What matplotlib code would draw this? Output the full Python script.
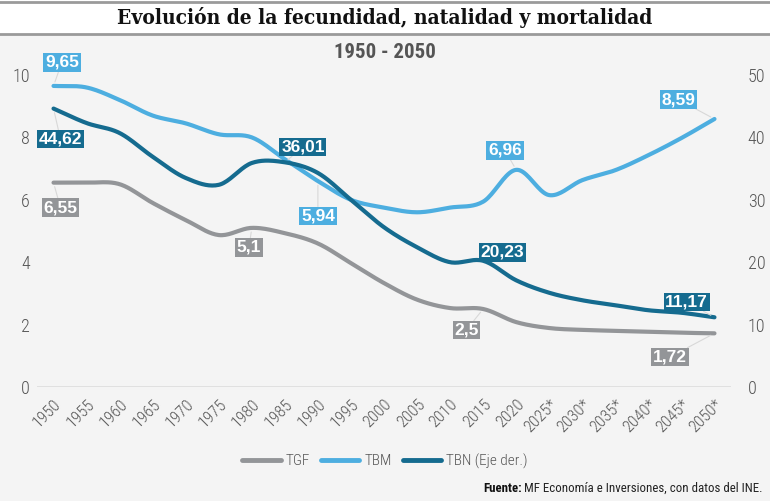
import numpy as np
import matplotlib
matplotlib.use("Agg")
import matplotlib.pyplot as plt
from matplotlib.lines import Line2D

years = ["1950", "1955", "1960", "1965", "1970", "1975", "1980", "1985", "1990", "1995",
         "2000", "2005", "2010", "2015", "2020", "2025*", "2030*", "2035*", "2040*", "2045*", "2050*"]
tgf = [6.55, 6.55, 6.5, 5.9, 5.35, 4.87, 5.1, 4.93, 4.6, 3.97,
       3.33, 2.8, 2.53, 2.5, 2.08, 1.89, 1.83, 1.8, 1.77, 1.74, 1.72]
tbm = [9.65, 9.6, 9.2, 8.7, 8.45, 8.1, 8.0, 7.3, 6.6, 6.0,
       5.75, 5.6, 5.75, 5.94, 6.96, 6.15, 6.63, 6.95, 7.43, 7.98, 8.59]
tbn = [44.62, 42.3, 40.7, 36.9, 33.5, 32.4, 35.9, 36.01, 34.3, 30.0,
       25.6, 22.4, 20.0, 20.23, 17.1, 15.1, 13.9, 13.1, 12.3, 11.9, 11.17]

C_TGF = "#939598"
C_TBM = "#4daee0"
C_TBN = "#156b8f"
BG = "#f4f4f4"
COND = ["Roboto Condensed", "DejaVu Sans"]


def smooth(y, n=20):
    y = np.asarray(y, float)
    x = np.arange(len(y))
    p = np.concatenate([[2 * y[0] - y[1]], y, [2 * y[-1] - y[-2]]])
    xs, ys = [], []
    for i in range(len(y) - 1):
        p0, p1, p2, p3 = p[i], p[i + 1], p[i + 2], p[i + 3]
        t = np.linspace(0, 1, n, endpoint=False)
        yy = 0.5 * ((2 * p1) + (-p0 + p2) * t + (2 * p0 - 5 * p1 + 4 * p2 - p3) * t ** 2
                    + (-p0 + 3 * p1 - 3 * p2 + p3) * t ** 3)
        xs.append(x[i] + t)
        ys.append(yy)
    xs.append([x[-1]]); ys.append([y[-1]])
    return np.concatenate(xs), np.concatenate(ys)


fig = plt.figure(figsize=(7.70, 5.01), dpi=100)
fig.patch.set_facecolor(BG)
fig.patches.append(plt.Rectangle((0, 1 - 34 / 501), 1, 34 / 501, transform=fig.transFigure,
                                 facecolor="white", edgecolor="none", zorder=0))
fig.lines.append(Line2D([0, 1], [1 - 1.5 / 501] * 2, transform=fig.transFigure, color="#9a9a9a", lw=2))
fig.lines.append(Line2D([0, 1], [1 - 34 / 501] * 2, transform=fig.transFigure, color="#9a9a9a", lw=2))
fig.text(0.5, 1 - 18 / 501, "Evolución de la fecundidad, natalidad y mortalidad",
         ha="center", va="center", fontsize=15, fontweight="bold",
         family=["DejaVu Serif"], fontstretch="condensed", color="#111111")
fig.text(0.5, 1 - 52 / 501, "1950 - 2050", ha="center", va="center", fontsize=15,
         fontweight="bold", family=COND, color="#555555")

ax = fig.add_axes([37 / 770, 1 - 387 / 501, (731 - 37) / 770, (387 - 75) / 501])
ax.set_facecolor(BG)
ax2 = ax.twinx()
x = np.arange(len(years))
ax.set_xlim(-0.5, 20.5)
ax.set_ylim(0, 10)
ax2.set_ylim(0, 50)

xs, ys = smooth(tgf)
ax.plot(xs, ys, color=C_TGF, lw=3, solid_capstyle="round", zorder=3)
xs, ys = smooth(tbm)
ax.plot(xs, ys, color=C_TBM, lw=3, solid_capstyle="round", zorder=3)
xs, ys = smooth(tbn)
ax2.plot(xs, ys, color=C_TBN, lw=3, solid_capstyle="round", zorder=3)

ax.axhline(0, color="#dddddd", lw=1.2, zorder=1)

for a in (ax, ax2):
    for s in a.spines.values():
        s.set_visible(False)
    a.tick_params(length=0, colors="#555555")
ax.set_yticks([0, 2, 4, 6, 8, 10])
ax2.set_yticks([0, 10, 20, 30, 40, 50])
for lab in ax.get_yticklabels() + ax2.get_yticklabels():
    lab.set_family(COND)
    lab.set_fontweight(300)
    lab.set_fontsize(13)
ax.tick_params(axis="y", pad=5)
ax2.tick_params(axis="y", pad=12)
ax.set_xticks(x)
ax.set_xticklabels(years, rotation=45, ha="right", rotation_mode="anchor", family=COND,
                   fontweight=300, fontsize=12, color="#555555")
ax.tick_params(axis="x", pad=7)


def box(axis, i, val, text, dx, dy, color):
    axis.annotate(text, xy=(i, val), xytext=(dx, dy), textcoords="offset points",
                  ha="center", va="center", fontsize=12.5, fontweight="bold", color="white",
                  family=["Liberation Sans", "DejaVu Sans"],
                  bbox=dict(boxstyle="square,pad=0.1", fc=color, ec="none"),
                  arrowprops=dict(arrowstyle="-", color="#d8d8d8", lw=0.8,
                                  shrinkA=0, shrinkB=3),
                  annotation_clip=False, zorder=5)

box(ax, 0, tbm[0], "9,65", 6, 17, C_TBM)
box(ax2, 0, tbn[0], "44,62", 5, -22, C_TBN)
box(ax, 0, tgf[0], "6,55", 5, -18, C_TGF)
box(ax, 6, tgf[6], "5,1", -2, -14, C_TGF)
box(ax2, 7, tbn[7], "36,01", 13, 11, C_TBN)
box(ax, 8, tbm[8], "5,94", 0, -25, C_TBM)
box(ax, 14, tbm[14], "6,96", -8, 14, C_TBM)
box(ax2, 13, tbn[13], "20,23", 14, 6, C_TBN)
box(ax, 13, tgf[13], "2,5", -12, -15, C_TGF)
box(ax, 20, tbm[20], "8,59", -26, 14, C_TBM)
box(ax2, 20, tbn[20], "11,17", -20, 11, C_TBN)
box(ax, 20, tgf[20], "1,72", -32, -17, C_TGF)

handles = [Line2D([], [], color=C_TGF, lw=3.5, solid_capstyle="round"),
           Line2D([], [], color=C_TBM, lw=3.5, solid_capstyle="round"),
           Line2D([], [], color=C_TBN, lw=3.5, solid_capstyle="round")]
leg = fig.legend(handles, ["TGF", "TBM", "TBN (Eje der.)"], loc="center",
                 bbox_to_anchor=(0.5, 1 - 461 / 501), ncol=3, frameon=False,
                 handlelength=2.5, handletextpad=0.35, columnspacing=0.7,
                 prop={"family": COND, "size": 11, "weight": 300})
for t in leg.get_texts():
    t.set_color("#555555")

t1 = fig.text(1 - 7 / 770, 1 - 488 / 501, "MF Economía e Inversiones, con datos del INE.",
              ha="right", va="center", fontsize=9.3, family=COND, color="#222222")
fig.canvas.draw()
bb = t1.get_window_extent()
fig.text(bb.x0 / 770 - 0.003, 1 - 488 / 501, "Fuente:", ha="right", va="center",
         fontsize=9.3, fontweight="bold", family=COND, color="#111111")

fig.savefig("out.png", dpi=100, facecolor=fig.get_facecolor())
